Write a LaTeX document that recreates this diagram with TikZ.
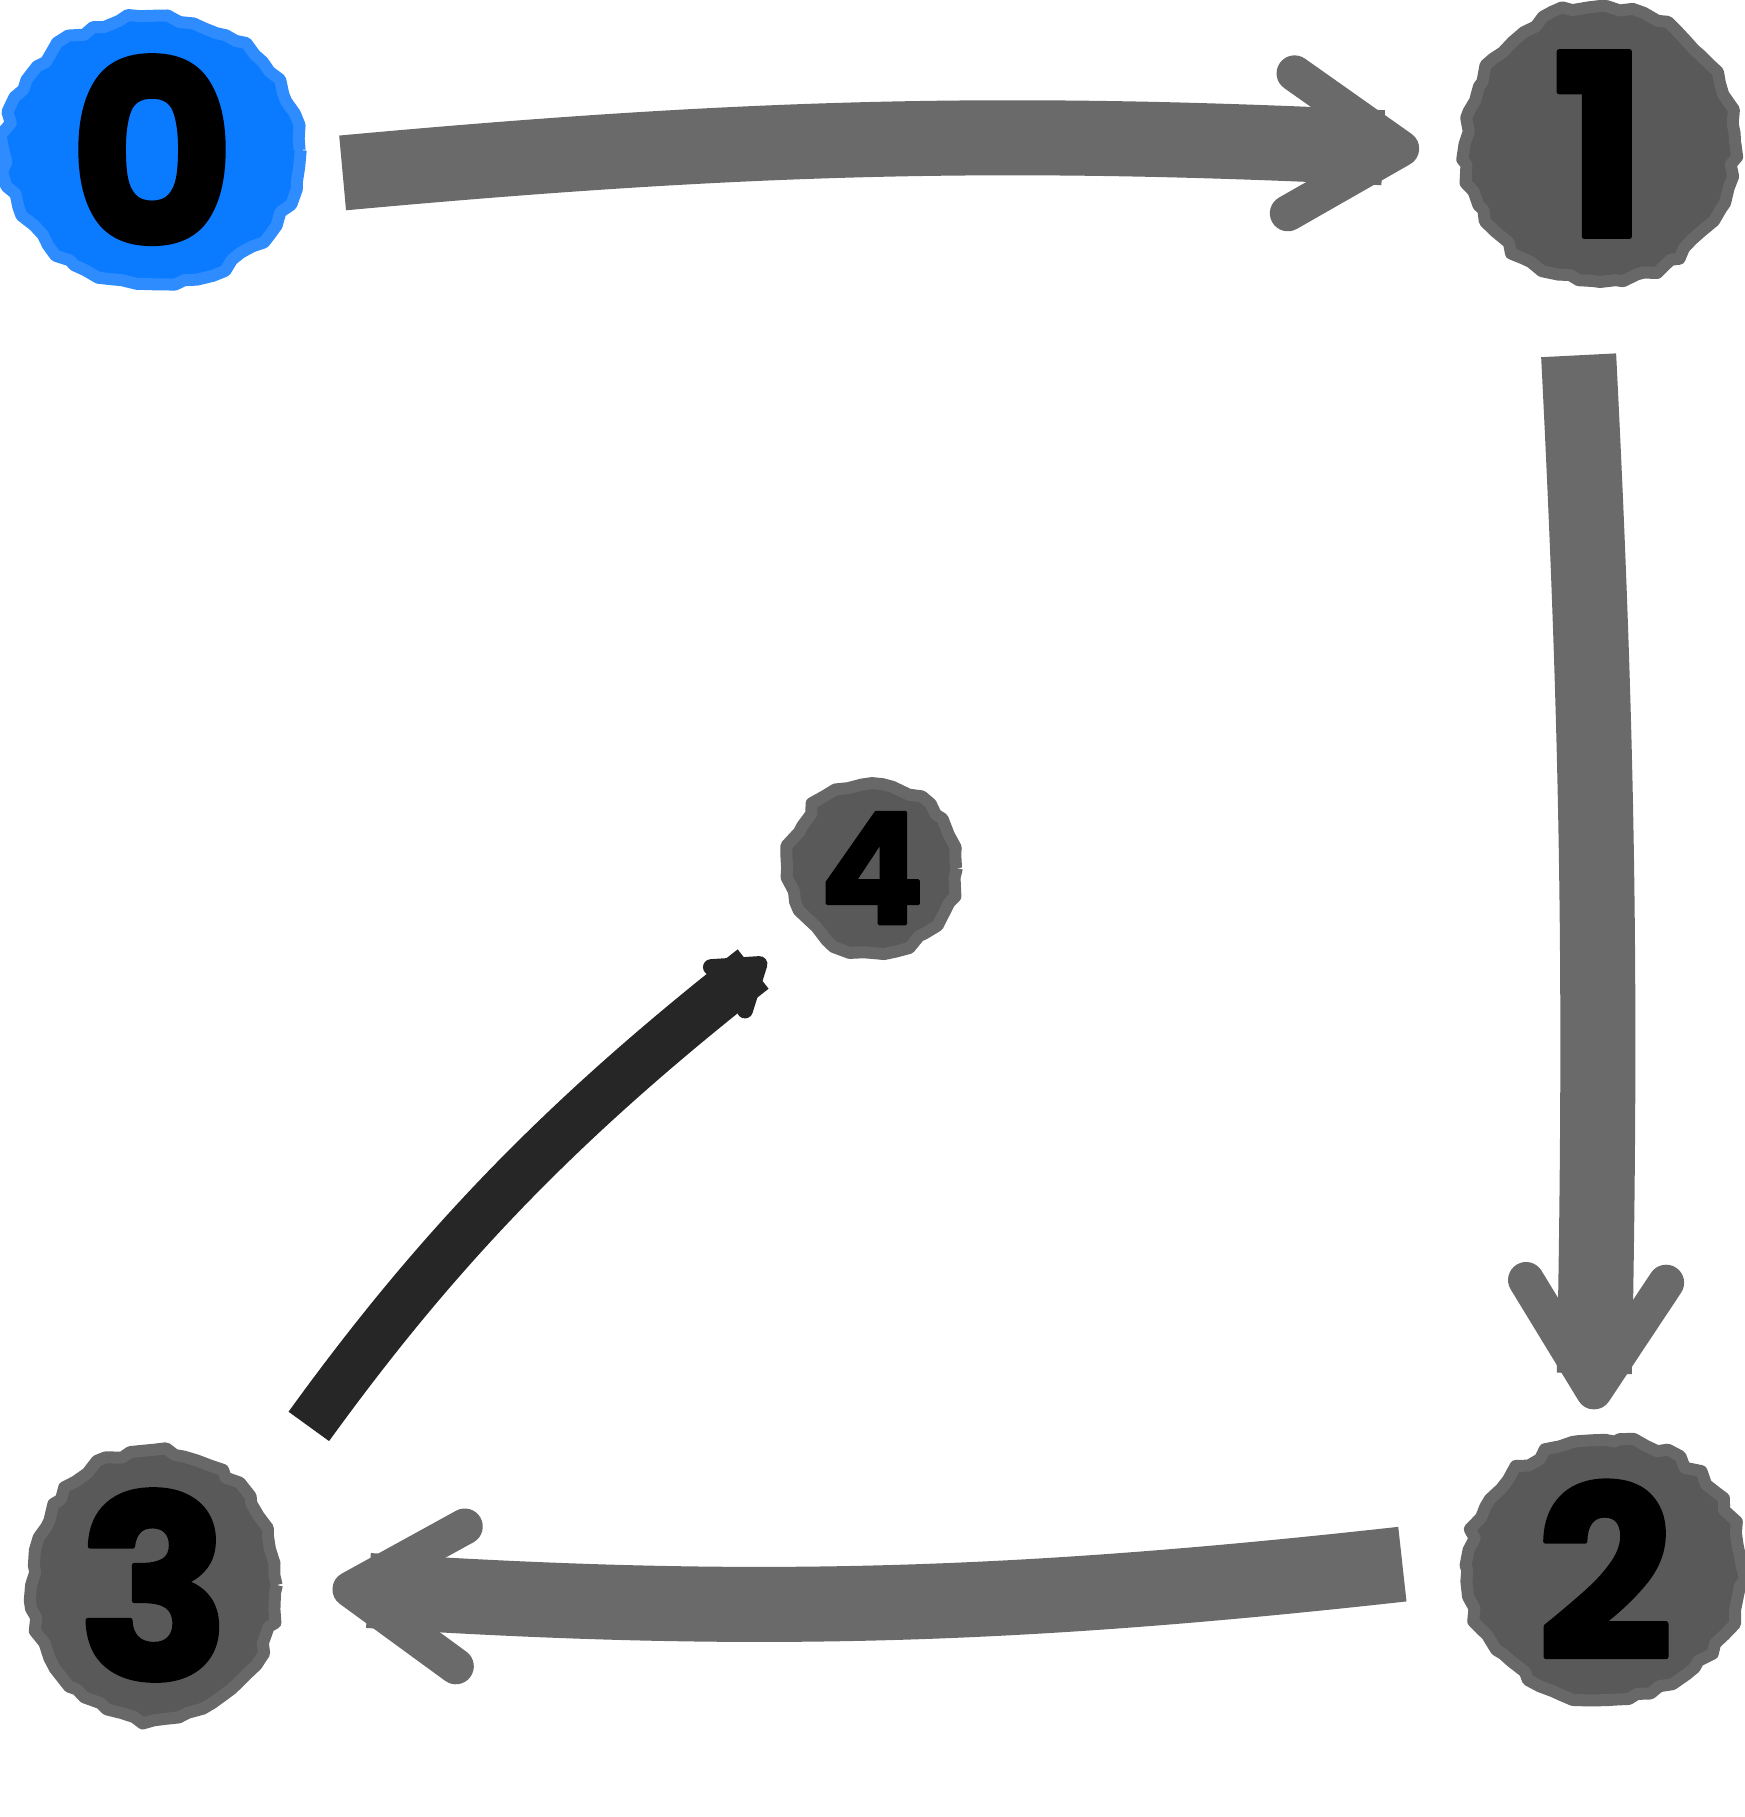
\documentclass[tikz,border=0pt]{standalone}
\usepackage{fontspec}
\usetikzlibrary{arrows.meta, decorations.pathmorphing, shapes.geometric}
\newfontfamily\digitfont{Poppins Bold}[FakeBold=2]
\definecolor{stepblue}{HTML}{0A7AFF}
\definecolor{stepbluerim}{HTML}{2E8CFF}
\definecolor{stepgrey}{HTML}{595959}
\definecolor{rimgrey}{HTML}{686868}
\definecolor{brushgrey}{HTML}{6A6A6A}
\definecolor{inkblack}{HTML}{262626}

\tikzset{
  numdot/.style={ellipse, inner sep=0pt, fill=stepgrey, draw=rimgrey, line width=1.2mm,
    line join=round, decorate, decoration={random steps, segment length=1.2mm, amplitude=0.4mm},
    text=black, font=\digitfont\fontsize{72}{72}\selectfont},
  startdot/.style={numdot, fill=stepblue, draw=stepbluerim},
  brush/.style={draw=brushgrey, line width=7.5mm, line cap=butt,
    -{Straight Barb[length=11mm, width=14mm, line width'=3.6mm, round]}},
  inkbrush/.style={draw=inkblack, line width=5mm, line cap=butt,
    -{Straight Barb[length=4mm, width=5.5mm, line width'=1.6mm, round]}},
}

\begin{document}
\begin{tikzpicture}[x=0.01cm, y=-0.01cm]
  \pgfmathsetseed{7}
  \useasboundingbox (0,0) rectangle (1745,1817);

  % steps of the round
  \node[startdot, minimum width=2.95cm, minimum height=2.65cm] (n0) at (152,150) {0};
  \node[numdot, minimum width=2.7cm, minimum height=2.75cm] (n1) at (1600,144) {1};
  \node[numdot, minimum width=2.75cm, minimum height=2.6cm, font=\digitfont\fontsize{68}{68}\selectfont] (n2) at (1605,1570) {2};
  \node[numdot, minimum width=2.45cm, minimum height=2.5cm] (n3) at (154,1585) {3};
  \node[numdot, minimum size=1.68cm, font=\digitfont\fontsize{44}{44}\selectfont] (n4) at (872,868) {4};

  % moves
  \draw[brush, shorten <=4mm, shorten >=4mm] (n0.-10) to[bend left=4] (n1.183);
  \draw[brush, shorten <=7mm, shorten >=2.5mm] (n1.-100) to[bend left=2] (n2.95);
  \draw[brush, shorten <=6mm, shorten >=5mm] (n2.175) to[bend left=5] (n3.0);
  \draw[inkbrush, shorten <=9mm, shorten >=5mm] (n3.40) to[bend left=8] (n4.222);
\end{tikzpicture}
\end{document}
